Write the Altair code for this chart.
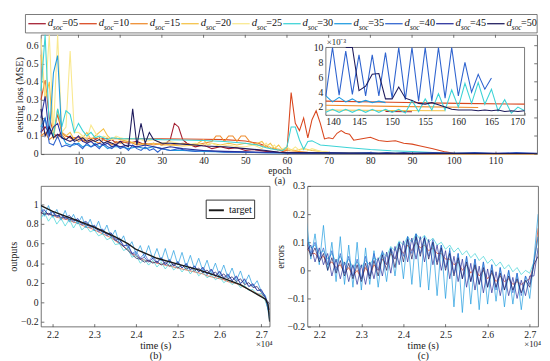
import altair as alt
import pandas as pd

# ---------------- names / colours ----------------
NAMES = ["05", "10", "15", "20", "25", "30", "35", "40", "45", "50"]
SERIES = ["d" + n for n in NAMES]
COLORS = ["#A31B2E", "#D9471E", "#EE8B2D", "#F4C146", "#F9E88E",
          "#3CD3D6", "#1F9BE0", "#2E63CF", "#28309C", "#1D1A5C"]

# ---------------- (a) testing loss, main view ----------------
EPOCH_TICKS = [10, 20, 30, 40, 50, 60, 70, 80, 90, 100, 110]
LOSS_TICKS = [0, 0.1, 0.2, 0.3, 0.4, 0.5, 0.6]
EPOCH_DOMAIN = [1, 120]
LOSS_DOMAIN = [0, 0.66]

EP_05 = list(range(1, 21)) + [22, 24, 26, 28, 30, 31, 32, 33, 34, 35, 36, 38, 40, 42, 44, 46, 48, 50, 52, 55, 58, 60, 65, 70, 80, 100, 120]
L_05 = [0.12, 0.15, 0.12, 0.11, 0.10, 0.12, 0.10, 0.09, 0.08, 0.10,
        0.07, 0.08, 0.07, 0.08, 0.09, 0.08, 0.07, 0.08, 0.06, 0.07,
        0.06, 0.07, 0.05, 0.06, 0.05, 0.06, 0.08, 0.17, 0.15, 0.08, 0.06,
        0.04, 0.05, 0.03, 0.04, 0.03, 0.035, 0.02, 0.025, 0.015, 0.01, 0.005,
        0.004, 0.003, 0.003, 0.002, 0.0015]

EP_10 = list(range(1, 11)) + [12, 15, 20, 25, 30, 35, 40, 45, 50, 53, 55, 57, 59, 60] + list(range(61, 77)) + [78, 80, 82, 84, 86, 88, 90, 92, 95, 98, 100, 110, 120]
L_10 = [0.30, 0.41, 0.20, 0.12, 0.22, 0.12, 0.10, 0.09, 0.09, 0.09,
        0.088, 0.086, 0.085, 0.085, 0.084, 0.083, 0.082, 0.08, 0.072,
        0.06, 0.045, 0.03, 0.015, 0.02,
        0.34, 0.17, 0.13, 0.20, 0.09, 0.19, 0.24, 0.17, 0.084, 0.09, 0.085, 0.115, 0.13, 0.115, 0.11, 0.077,
        0.085, 0.093, 0.075, 0.07, 0.074, 0.06, 0.055, 0.045, 0.03, 0.012, 0.005, 0.003, 0.003]

EP_15 = list(range(1, 21)) + [22, 24, 26, 28, 30, 32, 35, 38, 40, 42, 43, 44, 45, 46, 47, 48, 49, 50, 51, 53, 55, 57, 60, 65, 70, 80, 100, 120]
L_15 = [0.10, 0.12, 0.08, 0.10, 0.09, 0.11, 0.08, 0.07, 0.09, 0.07,
        0.08, 0.06, 0.08, 0.07, 0.06, 0.08, 0.07, 0.05, 0.07, 0.06,
        0.07, 0.05, 0.06, 0.05, 0.06, 0.05, 0.06, 0.05, 0.06,
        0.07, 0.10, 0.10, 0.07, 0.10, 0.10, 0.07, 0.10, 0.10, 0.07,
        0.05, 0.04, 0.03, 0.02, 0.01, 0.005, 0.003, 0.0025, 0.0022]

EP_20 = list(range(1, 21)) + [22, 24, 26, 28, 30, 32, 35, 38, 40, 41, 42, 44, 46, 48, 50, 52, 54, 55, 56, 57, 58, 59, 60, 62, 64, 66, 68, 70, 75, 80, 100, 120]
L_20 = [0.55, 0.30, 0.40, 0.08, 0.25, 0.12, 0.10, 0.12, 0.08, 0.10,
        0.09, 0.12, 0.08, 0.10, 0.12, 0.14, 0.10, 0.08, 0.09, 0.08,
        0.07, 0.06, 0.05, 0.06, 0.05, 0.05, 0.045, 0.05, 0.08,
        0.05, 0.06, 0.05, 0.06, 0.05, 0.06, 0.05, 0.07,
        0.04, 0.06, 0.03, 0.05, 0.02, 0.03,
        0.02, 0.03, 0.02, 0.015, 0.01, 0.008, 0.005, 0.002, 0.0015]

EP_25 = list(range(1, 21)) + [22, 24, 26, 28, 30, 32, 34, 36, 38, 40, 42, 44, 46, 48, 50, 52, 54, 55, 56, 57, 58, 60, 61, 62, 63, 64, 65, 66, 68, 70, 75, 80, 100, 120]
L_25 = [0.64, 0.30, 0.90, 0.12, 0.90, 0.12, 0.15, 0.57, 0.12, 0.12,
        0.10, 0.08, 0.16, 0.12, 0.08, 0.10, 0.09, 0.08, 0.10, 0.09,
        0.08, 0.09, 0.07, 0.08, 0.06, 0.07, 0.06, 0.05, 0.06, 0.05,
        0.06, 0.04, 0.05, 0.04, 0.04, 0.05, 0.03,
        0.06, 0.03, 0.05, 0.02, 0.04,
        0.02, 0.04, 0.02, 0.035, 0.02, 0.03, 0.015, 0.01,
        0.008, 0.005, 0.002, 0.0018]

EP_30 = list(range(1, 19)) + [20, 22, 25, 30, 35, 40, 45, 50, 53, 55, 57, 59, 60] + list(range(61, 69)) + [70, 75, 80, 85, 90, 95, 98, 100, 110, 120]
L_30 = [0.35, 0.66, 0.15, 0.10, 0.25, 0.15, 0.24, 0.22, 0.12, 0.17,
        0.13, 0.10, 0.12, 0.09, 0.10, 0.09, 0.08, 0.09,
        0.085, 0.085, 0.085, 0.08, 0.078, 0.075, 0.07, 0.06,
        0.05, 0.035, 0.025, 0.02, 0.04,
        0.15, 0.15, 0.078, 0.027, 0.07, 0.073, 0.062, 0.05,
        0.046, 0.035, 0.025, 0.018, 0.014, 0.008, 0.005, 0.004, 0.003, 0.003]

EP_35 = list(range(1, 19)) + [20, 22, 24, 26, 28, 30, 32, 35, 40, 45, 50, 55, 60, 70, 80, 100, 120]
L_35 = [0.15, 0.20, 0.10, 0.45, 0.545, 0.10, 0.06, 0.05, 0.05, 0.06,
        0.04, 0.05, 0.04, 0.06, 0.04, 0.05, 0.03, 0.04,
        0.04, 0.03, 0.04, 0.03, 0.04, 0.03, 0.02, 0.02, 0.015, 0.012, 0.01, 0.008, 0.006, 0.005, 0.004, 0.003, 0.003]

EP_40 = list(range(1, 31)) + [32, 34, 36, 38, 40, 45, 50, 55, 60, 70, 75, 80, 82, 84, 86, 88, 90, 95, 100, 105, 110, 115, 120]
L_40 = [0.12, 0.20, 0.06, 0.05, 0.10, 0.04, 0.05, 0.04, 0.06, 0.05,
        0.03, 0.06, 0.04, 0.05, 0.03, 0.06, 0.04, 0.03, 0.05, 0.03,
        0.04, 0.02, 0.05, 0.03, 0.02, 0.04, 0.02, 0.03, 0.01, 0.03,
        0.02, 0.03, 0.02, 0.015, 0.02, 0.01, 0.01, 0.008, 0.006, 0.008, 0.005, 0.009,
        0.003, 0.009, 0.003, 0.009, 0.003, 0.008, 0.003, 0.008, 0.003, 0.008, 0.003]

EP_45 = list(range(1, 21)) + [22, 24, 26, 28, 30, 32, 35, 40, 45, 50, 55, 60, 70, 80, 100, 120]
L_45 = [0.20, 0.32, 0.10, 0.15, 0.17, 0.09, 0.08, 0.07, 0.08, 0.10,
        0.07, 0.06, 0.07, 0.05, 0.06, 0.05, 0.06, 0.04, 0.05, 0.04,
        0.05, 0.04, 0.05, 0.04, 0.03, 0.04, 0.03, 0.02, 0.015, 0.012, 0.01, 0.008, 0.006, 0.005, 0.004, 0.004]

EP_50 = list(range(1, 31)) + [32, 35, 38, 40, 45, 50, 55, 58, 60, 70, 80, 100, 120]
L_50 = [0.25, 0.10, 0.15, 0.09, 0.11, 0.09, 0.08, 0.10, 0.07, 0.08,
        0.09, 0.07, 0.08, 0.07, 0.08, 0.06, 0.07, 0.06, 0.05, 0.07,
        0.05, 0.04, 0.25, 0.05, 0.17, 0.06, 0.12, 0.08, 0.07, 0.06,
        0.06, 0.055, 0.05, 0.045, 0.04, 0.03, 0.02, 0.01, 0.008, 0.006, 0.005, 0.004, 0.003]

MAIN_EP = [EP_05, EP_10, EP_15, EP_20, EP_25, EP_30, EP_35, EP_40, EP_45, EP_50]
MAIN_L = [L_05, L_10, L_15, L_20, L_25, L_30, L_35, L_40, L_45, L_50]

# ---------------- (a) inset, epochs 140-170, loss x 1e-3 ----------------
INSET_X_TICKS = [140, 145, 150, 155, 160, 165, 170]
INSET_Y_TICKS = [2, 4, 6, 8, 10]
IN_EP = {
    "d05": [149, 153],
    "d10": [140, 150, 160, 170],
    "d15": [140, 150, 163],
    "d20": [140, 150, 158],
    "d30": list(range(140, 171)),
    "d35": list(range(140, 150)),
    "d40": list(range(140, 166)),
    "d50": list(range(143, 171)),
}
IN_L = {
    "d05": [1.4, 1.38],
    "d10": [2.8, 2.65, 2.5, 2.4],
    "d15": [2.25, 2.1, 1.95],
    "d20": [1.6, 1.55, 1.5],
    "d30": [1.3, 1.7, 1.3, 1.7, 1.3, 1.7, 1.3, 1.7, 1.3, 1.7, 1.3, 1.7,
            1.2, 2.9, 1.4, 3.1, 1.6, 3.8, 1.6, 4.3, 2.0, 5.2, 2.5, 5.3, 2.4, 4.4,
            1.5, 3.0, 1.2, 2.0, 1.5],
    "d35": [3.5, 2.7, 3.3, 2.7, 3.1, 2.6, 2.9, 2.6, 2.8, 2.6],
    "d40": [3.5, 12, 3.6, 9.5, 3.7, 9.0, 3.5, 9.0, 3.5, 9.3, 3.2, 12, 3.0, 12,
            2.8, 12, 2.8, 12, 3.2, 12, 3.5, 8.0, 4.0, 6.4, 4.4, 5.9],
    "d50": [14, 11, 4.2, 4.8, 6.4, 6.5, 3.1, 3.1, 4.7, 3.2, 2.9, 2.5, 2.4, 2.6,
            2.3, 2.0, 1.7, 1.6, 1.6, 1.6, 1.5, 1.6, 1.5, 1.6, 1.4, 1.5, 1.4, 1.5],
}
INSET_DOMAIN_X = [140, 170]
INSET_DOMAIN_Y = [0.9, 10]

# ---------------- (b) outputs and (c) errors ----------------
TIME_TICKS = [2.2, 2.3, 2.4, 2.5, 2.6, 2.7]
TIME_DOMAIN = [2.172, 2.72]
OUT_TICKS = [-0.2, 0, 0.2, 0.4, 0.6, 0.8, 1]
OUT_DOMAIN = [-0.25, 1.19]
ERR_TICKS = [-0.2, -0.1, 0, 0.1, 0.2, 0.3]
ERR_DOMAIN = [-0.2, 0.3]
T_GRID = [2.17, 2.18, 2.19, 2.20, 2.21, 2.22, 2.23, 2.24, 2.25, 2.26,
          2.27, 2.28, 2.29, 2.30, 2.31, 2.32, 2.33, 2.34, 2.35, 2.36,
          2.37, 2.38, 2.39, 2.40, 2.41, 2.42, 2.43, 2.44, 2.45, 2.46,
          2.47, 2.48, 2.49, 2.50, 2.51, 2.52, 2.53, 2.54, 2.55, 2.56,
          2.57, 2.58, 2.59, 2.60, 2.61, 2.62, 2.63, 2.64, 2.65, 2.66,
          2.67, 2.68, 2.69, 2.70, 2.71, 2.72]

OUT = {
    "d10": [0.92, 0.91, 0.90, 0.89, 0.87, 0.86, 0.85, 0.84, 0.82, 0.81,
            0.79, 0.77, 0.76, 0.74, 0.72, 0.70, 0.68, 0.66, 0.63, 0.60,
            0.57, 0.54, 0.50, 0.47, 0.45, 0.43, 0.42, 0.41, 0.40, 0.39,
            0.38, 0.37, 0.36, 0.35, 0.34, 0.33, 0.32, 0.31, 0.30, 0.29,
            0.27, 0.26, 0.25, 0.24, 0.23, 0.21, 0.20, 0.19, 0.17, 0.15,
            0.13, 0.11, 0.09, 0.07, 0.02, -0.12],
    "d30": [0.84, 0.92, 0.83, 0.89, 0.80, 0.86, 0.78, 0.85, 0.76, 0.83,
            0.74, 0.78, 0.72, 0.74, 0.68, 0.70, 0.64, 0.66, 0.59, 0.60,
            0.53, 0.55, 0.46, 0.48, 0.40, 0.44, 0.38, 0.43, 0.36, 0.41,
            0.34, 0.40, 0.33, 0.37, 0.31, 0.36, 0.29, 0.34, 0.27, 0.31,
            0.25, 0.28, 0.23, 0.26, 0.20, 0.23, 0.18, 0.21, 0.15, 0.17,
            0.12, 0.13, 0.08, 0.09, 0.01, -0.12],
    "d35": [1.02, 0.88, 0.99, 0.87, 0.95, 0.84, 0.94, 0.82, 0.90, 0.80,
            0.88, 0.76, 0.85, 0.73, 0.83, 0.70, 0.79, 0.66, 0.74, 0.60,
            0.68, 0.55, 0.62, 0.49, 0.58, 0.46, 0.58, 0.44, 0.55, 0.42,
            0.55, 0.40, 0.53, 0.38, 0.51, 0.36, 0.48, 0.34, 0.45, 0.32,
            0.43, 0.29, 0.40, 0.27, 0.38, 0.25, 0.35, 0.22, 0.32, 0.19,
            0.28, 0.16, 0.22, 0.11, 0.07, -0.19],
    "d40": [0.93, 0.95, 0.89, 0.92, 0.87, 0.90, 0.85, 0.87, 0.82, 0.86,
            0.79, 0.82, 0.76, 0.79, 0.72, 0.75, 0.68, 0.71, 0.63, 0.66,
            0.57, 0.60, 0.50, 0.52, 0.45, 0.50, 0.42, 0.47, 0.41, 0.46,
            0.39, 0.44, 0.37, 0.42, 0.35, 0.40, 0.33, 0.37, 0.31, 0.35,
            0.28, 0.33, 0.26, 0.31, 0.24, 0.28, 0.22, 0.26, 0.19, 0.23,
            0.16, 0.18, 0.12, 0.12, 0.05, -0.14],
    "d45": [0.91, 0.94, 0.90, 0.93, 0.88, 0.90, 0.86, 0.89, 0.84, 0.85,
            0.81, 0.83, 0.78, 0.78, 0.74, 0.74, 0.70, 0.71, 0.65, 0.64,
            0.58, 0.58, 0.50, 0.49, 0.44, 0.46, 0.41, 0.45, 0.40, 0.45,
            0.38, 0.43, 0.37, 0.41, 0.35, 0.39, 0.33, 0.37, 0.31, 0.36,
            0.29, 0.34, 0.27, 0.32, 0.25, 0.29, 0.22, 0.27, 0.19, 0.24,
            0.16, 0.19, 0.12, 0.13, 0.05, -0.08],
    "d50": [0.92, 0.90, 0.91, 0.89, 0.89, 0.87, 0.87, 0.85, 0.84, 0.83,
            0.81, 0.79, 0.78, 0.76, 0.74, 0.72, 0.70, 0.68, 0.64, 0.61,
            0.57, 0.53, 0.49, 0.45, 0.44, 0.41, 0.43, 0.40, 0.42, 0.38,
            0.41, 0.37, 0.39, 0.35, 0.38, 0.34, 0.36, 0.32, 0.35, 0.30,
            0.33, 0.28, 0.31, 0.26, 0.29, 0.24, 0.26, 0.21, 0.24, 0.18,
            0.20, 0.15, 0.16, 0.10, 0.04, -0.02],
}
TARGET_T = [2.172, 2.2, 2.25, 2.3, 2.35, 2.38, 2.4, 2.45, 2.5, 2.55, 2.6, 2.65, 2.69, 2.71, 2.716, 2.72]
TARGET_V = [0.99, 0.93, 0.85, 0.77, 0.67, 0.60, 0.54, 0.45, 0.39, 0.33, 0.26, 0.18, 0.08, 0.03, -0.02, -0.20]

ERR = {
    "d10": [0.08, 0.06, 0.06, 0.04, 0.05, 0.02, 0.03, 0.01, 0.02, -0.01,
            0.01, -0.02, 0.0, -0.03, 0.01, -0.02, 0.02, 0.0, 0.04, 0.02,
            0.06, 0.04, 0.08, 0.06, 0.09, 0.07, 0.10, 0.08, 0.09, 0.07,
            0.08, 0.06, 0.06, 0.04, 0.04, 0.02, 0.03, 0.0, 0.02, -0.01,
            0.01, -0.02, 0.0, -0.03, -0.01, -0.04, -0.02, -0.04, -0.03, -0.05,
            -0.04, -0.05, -0.04, -0.03, 0.02, 0.15],
    "d30": [0.11, 0.08, 0.09, 0.06, 0.07, 0.04, 0.06, 0.03, 0.05, 0.02,
            0.04, 0.01, 0.03, 0.01, 0.035, 0.02, 0.045, 0.035, 0.065, 0.05,
            0.085, 0.07, 0.105, 0.09, 0.12, 0.10, 0.13, 0.11, 0.125, 0.10,
            0.115, 0.09, 0.10, 0.075, 0.09, 0.065, 0.08, 0.055, 0.07, 0.045,
            0.06, 0.035, 0.05, 0.025, 0.04, 0.015, 0.03, 0.005, 0.02, -0.005,
            0.01, -0.015, 0.0, -0.01, 0.03, 0.12],
    "d35": [0.17, 0.04, 0.13, 0.02, 0.16, 0.00, 0.10, -0.04, 0.12, -0.05,
            0.09, -0.06, 0.10, -0.07, 0.08, -0.05, 0.07, -0.06, 0.06, -0.04,
            0.08, -0.02, 0.10, -0.03, 0.12, -0.05, 0.13, -0.06, 0.12, -0.07,
            0.10, -0.09, 0.09, -0.10, 0.08, -0.13, 0.06, -0.15, 0.05, -0.12,
            0.04, -0.14, 0.03, -0.12, 0.02, -0.11, 0.01, -0.13, 0.0, -0.12,
            -0.01, -0.14, -0.02, -0.10, 0.04, 0.20],
    "d40": [0.12, 0.06, 0.10, 0.04, 0.08, 0.02, 0.07, 0.00, 0.06, -0.01,
            0.05, -0.02, 0.04, -0.03, 0.05, -0.02, 0.06, 0.00, 0.07, 0.02,
            0.08, 0.04, 0.10, 0.05, 0.12, 0.06, 0.13, 0.06, 0.12, 0.05,
            0.11, 0.03, 0.09, 0.01, 0.07, -0.01, 0.06, -0.03, 0.05, -0.04,
            0.04, -0.05, 0.03, -0.06, 0.02, -0.07, 0.01, -0.07, 0.0, -0.08,
            -0.01, -0.09, -0.02, -0.05, 0.03, 0.12],
    "d45": [0.07, 0.09, 0.03, 0.08, 0.02, 0.06, -0.02, 0.04, -0.03, 0.03,
            -0.04, 0.02, -0.05, 0.02, -0.05, 0.03, -0.03, 0.045, -0.02, 0.065,
            -0.01, 0.085, 0.02, 0.105, 0.03, 0.115, 0.04, 0.12, 0.03, 0.11,
            0.02, 0.09, 0.00, 0.07, -0.03, 0.05, -0.04, 0.04, -0.06, 0.025,
            -0.07, 0.015, -0.08, 0.005, -0.08, -0.005, -0.09, -0.015, -0.09, -0.025,
            -0.10, -0.035, -0.09, -0.02, -0.02, 0.08],
    "d50": [0.10, 0.05, 0.08, 0.03, 0.06, 0.00, 0.045, -0.01, 0.035, -0.02,
            0.025, -0.03, 0.02, -0.04, 0.025, -0.03, 0.035, -0.02, 0.055, 0.00,
            0.075, 0.01, 0.095, 0.03, 0.11, 0.04, 0.12, 0.05, 0.115, 0.04,
            0.10, 0.02, 0.08, 0.00, 0.06, -0.02, 0.045, -0.03, 0.03, -0.04,
            0.02, -0.05, 0.01, -0.06, 0.0, -0.06, -0.01, -0.07, -0.02, -0.07,
            -0.03, -0.08, -0.035, -0.06, 0.02, 0.05],
}

# ---------------- tables ----------------
for e, l in zip(MAIN_EP, MAIN_L):
    assert len(e) == len(l), (len(e), len(l))
for k in IN_EP:
    assert len(IN_EP[k]) == len(IN_L[k]), k
for k in OUT:
    assert len(OUT[k]) == len(T_GRID), k
for k in ERR:
    assert len(ERR[k]) == len(T_GRID), k

df_top = pd.DataFrame([
    {"series": s, "epoch": x, "loss": y}
    for s, eps, ls in zip(SERIES, MAIN_EP, MAIN_L) for x, y in zip(eps, ls)
])
df_in = pd.DataFrame([
    {"series": s, "epoch": x, "loss": y}
    for s in SERIES if s in IN_EP for x, y in zip(IN_EP[s], IN_L[s])
])
df_box = pd.DataFrame([{"epoch": INSET_DOMAIN_X[0], "epoch2": INSET_DOMAIN_X[1],
                        "loss": INSET_DOMAIN_Y[0], "loss2": INSET_DOMAIN_Y[1]}])
df_b = pd.DataFrame([
    {"series": s, "t": t, "v": v}
    for s in SERIES if s in OUT for t, v in zip(T_GRID, OUT[s])
])
df_c = pd.DataFrame([
    {"series": s, "t": t, "v": v}
    for s in SERIES if s in ERR for t, v in zip(T_GRID, ERR[s])
])
df_target = pd.DataFrame({"name": "target", "t": TARGET_T, "v": TARGET_V})
df_leg = pd.DataFrame({"series": SERIES, "idx": list(range(len(SERIES))),
                       "eq": ["=" + n for n in NAMES]})
one = pd.DataFrame({"a": [0]})

# ---------------- layout / style ----------------
FONT = "Liberation Serif"
FRAME = "#4d4d4d"
L_PAGE = 36            # expected page x of the plot left edge
W_TOP, H_TOP = 512, 123
LEG_TOP, LEG_BOT = -21, -2     # legend box, pixels relative to plot top
W_B, W_C, H_BOT = 236, 238, 145
IX0, IX1 = round(0.574 * W_TOP), round(0.975 * W_TOP)
IY_TOP, IY_BOT = round(0.102 * H_TOP), round(0.675 * H_TOP)
ENTRY = 52.6
LEG_START = 23 - L_PAGE
TK = 3   # inward tick length (axis moved inside the frame by TK)

color_enc = alt.Color("series:N", scale=alt.Scale(domain=SERIES, range=COLORS), legend=None)
TICKS = dict(ticks=True, tickSize=TK, tickColor=FRAME, tickWidth=0.8)


def top_ticks(field, ticks, domain):
    """Inward tick marks on the top frame edge (own scale, same domain)."""
    return alt.Chart(pd.DataFrame({field: ticks})).mark_rule(color=FRAME, strokeWidth=0.8).encode(
        x=alt.X(field + ":Q", scale=alt.Scale(domain=domain, nice=False, zero=False), axis=None),
        y=alt.value(0), y2=alt.value(TK))


def right_ticks(field, ticks, domain, width):
    """Inward tick marks on the right frame edge (own scale, same domain)."""
    return alt.Chart(pd.DataFrame({field: ticks})).mark_rule(color=FRAME, strokeWidth=0.8).encode(
        y=alt.Y(field + ":Q", scale=alt.Scale(domain=domain, nice=False, zero=False), axis=None),
        x=alt.value(width - TK), x2=alt.value(width))


# ---- legend strip (drawn above the plot area of panel a) ----
leg_x = alt.X("idx:Q", scale=alt.Scale(domain=[0, 10], range=[LEG_START, LEG_START + 10 * ENTRY]), axis=None)
LY = (LEG_TOP + LEG_BOT) / 2
leg_box = alt.Chart(one).mark_rect(fill="white", stroke="#555", strokeWidth=0.8).encode(
    x=alt.value(20 - L_PAGE), x2=alt.value(W_TOP), y=alt.value(LEG_TOP), y2=alt.value(LEG_BOT))
leg_rule = alt.Chart(df_leg).transform_calculate(idx2="datum.idx + 18/52.6").mark_rule(strokeWidth=1.3).encode(
    x=leg_x, x2="idx2:Q", y=alt.value(LY), color=color_enc)
leg_d = alt.Chart(df_leg).mark_text(font=FONT, fontStyle="italic", fontSize=11, align="left",
                                    baseline="middle", dx=20, color="#111").encode(
    x=leg_x, y=alt.value(LY - 0.5), text=alt.value("d"))
leg_soc = alt.Chart(df_leg).mark_text(font=FONT, fontStyle="italic", fontSize=7.5, align="left",
                                      baseline="middle", dx=25.5, color="#111").encode(
    x=leg_x, y=alt.value(LY + 4), text=alt.value("soc"))
leg_eq = alt.Chart(df_leg).mark_text(font=FONT, fontSize=10.5, align="left",
                                     baseline="middle", dx=35, color="#111").encode(
    x=leg_x, y=alt.value(LY - 0.5), text="eq:N")
legend = alt.layer(leg_box, leg_rule, leg_d, leg_soc, leg_eq)

# ---- (a) ----
x_top = alt.X("epoch:Q", scale=alt.Scale(domain=EPOCH_DOMAIN, nice=False, zero=False),
              axis=alt.Axis(values=EPOCH_TICKS, title=["epoch", "(a)"], offset=-TK, labelPadding=2,
                            titlePadding=0, titleLineHeight=10, titleFontSize=10,
                            titleX=W_TOP / 2 - 10, **TICKS))
y_top = alt.Y("loss:Q", scale=alt.Scale(domain=LOSS_DOMAIN, nice=False, clamp=True),
              axis=alt.Axis(values=LOSS_TICKS, format="~g", title="testing loss (MSE)", offset=-TK, **TICKS))
main = alt.Chart(df_top).mark_line(strokeWidth=1.1).encode(x=x_top, y=y_top, color=color_enc)
main_top = top_ticks("epoch", EPOCH_TICKS, EPOCH_DOMAIN)
main_right = right_ticks("loss", LOSS_TICKS, LOSS_DOMAIN, W_TOP)

x_in = alt.X("epoch:Q", scale=alt.Scale(domain=INSET_DOMAIN_X, range=[IX0, IX1], nice=False, zero=False),
             axis=alt.Axis(values=INSET_X_TICKS, orient="bottom", offset=IY_BOT - H_TOP - TK, title=None,
                           labelPadding=1, **TICKS))
y_in = alt.Y("loss:Q", scale=alt.Scale(domain=INSET_DOMAIN_Y, range=[IY_BOT, IY_TOP], nice=False,
                                       zero=False, clamp=True),
             axis=alt.Axis(values=INSET_Y_TICKS, orient="left", offset=-IX0 - TK, title=None,
                           labelPadding=3, **TICKS))
in_box = alt.Chart(df_box).mark_rect(fill="white", stroke="#555", strokeWidth=0.8).encode(
    x=x_in, x2="epoch2:Q", y=y_in, y2="loss2:Q")
in_lines = alt.Chart(df_in).mark_line(strokeWidth=1.1).encode(x=x_in, y=y_in, color=color_enc)
in_exp = alt.Chart(one).mark_text(font=FONT, fontSize=9, align="left", baseline="bottom", color="#222").encode(
    x=alt.value(IX0 + 1), y=alt.value(IY_TOP - 1), text=alt.value("×10⁻³"))
inset = alt.layer(in_box, in_lines, in_exp)

top = alt.layer(main, main_top, main_right, inset, legend).resolve_scale(
    x="independent", y="independent").properties(width=W_TOP, height=H_TOP)

# ---- (b) ----
def time_x(lbl):
    return alt.X("t:Q", scale=alt.Scale(domain=TIME_DOMAIN, nice=False, zero=False),
                 axis=alt.Axis(values=TIME_TICKS, format=".1f", title=["time (s)", lbl], offset=-TK,
                               labelPadding=3, titleLineHeight=10, titlePadding=2, **TICKS))


y_b = alt.Y("v:Q", scale=alt.Scale(domain=OUT_DOMAIN, nice=False, zero=False),
            axis=alt.Axis(values=OUT_TICKS, format="~g", title="outputs", offset=-TK, **TICKS))
b_lines = alt.Chart(df_b).mark_line(strokeWidth=0.8, opacity=0.9, clip=True).encode(
    x=time_x("(b)"), y=y_b, color=color_enc)
b_target = alt.Chart(df_target).mark_line(strokeWidth=1.4, clip=True).encode(
    x=time_x("(b)"), y=y_b,
    color=alt.Color("name:N", scale=alt.Scale(domain=["target"], range=["#1a1a1a"]),
                    legend=alt.Legend(orient="none", legendX=170, legendY=14, title=None,
                                      strokeColor="#333", fillColor="white", padding=2,
                                      labelFont=FONT, labelFontSize=10.5, symbolStrokeWidth=2,
                                      symbolSize=240, labelColor="#111")))
b_exp = alt.Chart(one).mark_text(font=FONT, fontSize=9, align="right", baseline="top", color="#222").encode(
    x=alt.value(W_B + 3), y=alt.value(H_BOT + 14), text=alt.value("×10⁴"))
panel_b = alt.layer(b_lines, b_target, b_exp).resolve_scale(color="independent").properties(
    width=W_B, height=H_BOT)

# ---- (c) ----
y_c = alt.Y("v:Q", scale=alt.Scale(domain=ERR_DOMAIN, nice=False, zero=False),
            axis=alt.Axis(values=ERR_TICKS, format="~g", title="errors", offset=-TK, **TICKS))
c_lines = alt.Chart(df_c).mark_line(strokeWidth=0.8, opacity=0.9, clip=True).encode(
    x=time_x("(c)"), y=y_c, color=color_enc)
c_exp = alt.Chart(one).mark_text(font=FONT, fontSize=9, align="right", baseline="top", color="#222").encode(
    x=alt.value(W_C + 3), y=alt.value(H_BOT + 14), text=alt.value("×10⁴"))
panel_c = alt.layer(c_lines, c_exp).properties(width=W_C, height=H_BOT)

lower = alt.hconcat(panel_b, panel_c, spacing=1)
chart = alt.vconcat(top, lower, spacing=-12).properties(padding=0).configure(
    font=FONT
).configure_axis(
    labelFont=FONT, titleFont=FONT, labelFontSize=10, titleFontSize=10.5, titleFontWeight="normal",
    labelColor="#1a1a1a", titleColor="#1a1a1a", grid=False, domain=False,
    labelPadding=3, titlePadding=2
).configure_view(stroke=FRAME, strokeWidth=0.8)

chart.save("out.html", embed_options={"renderer": "svg", "actions": False})
